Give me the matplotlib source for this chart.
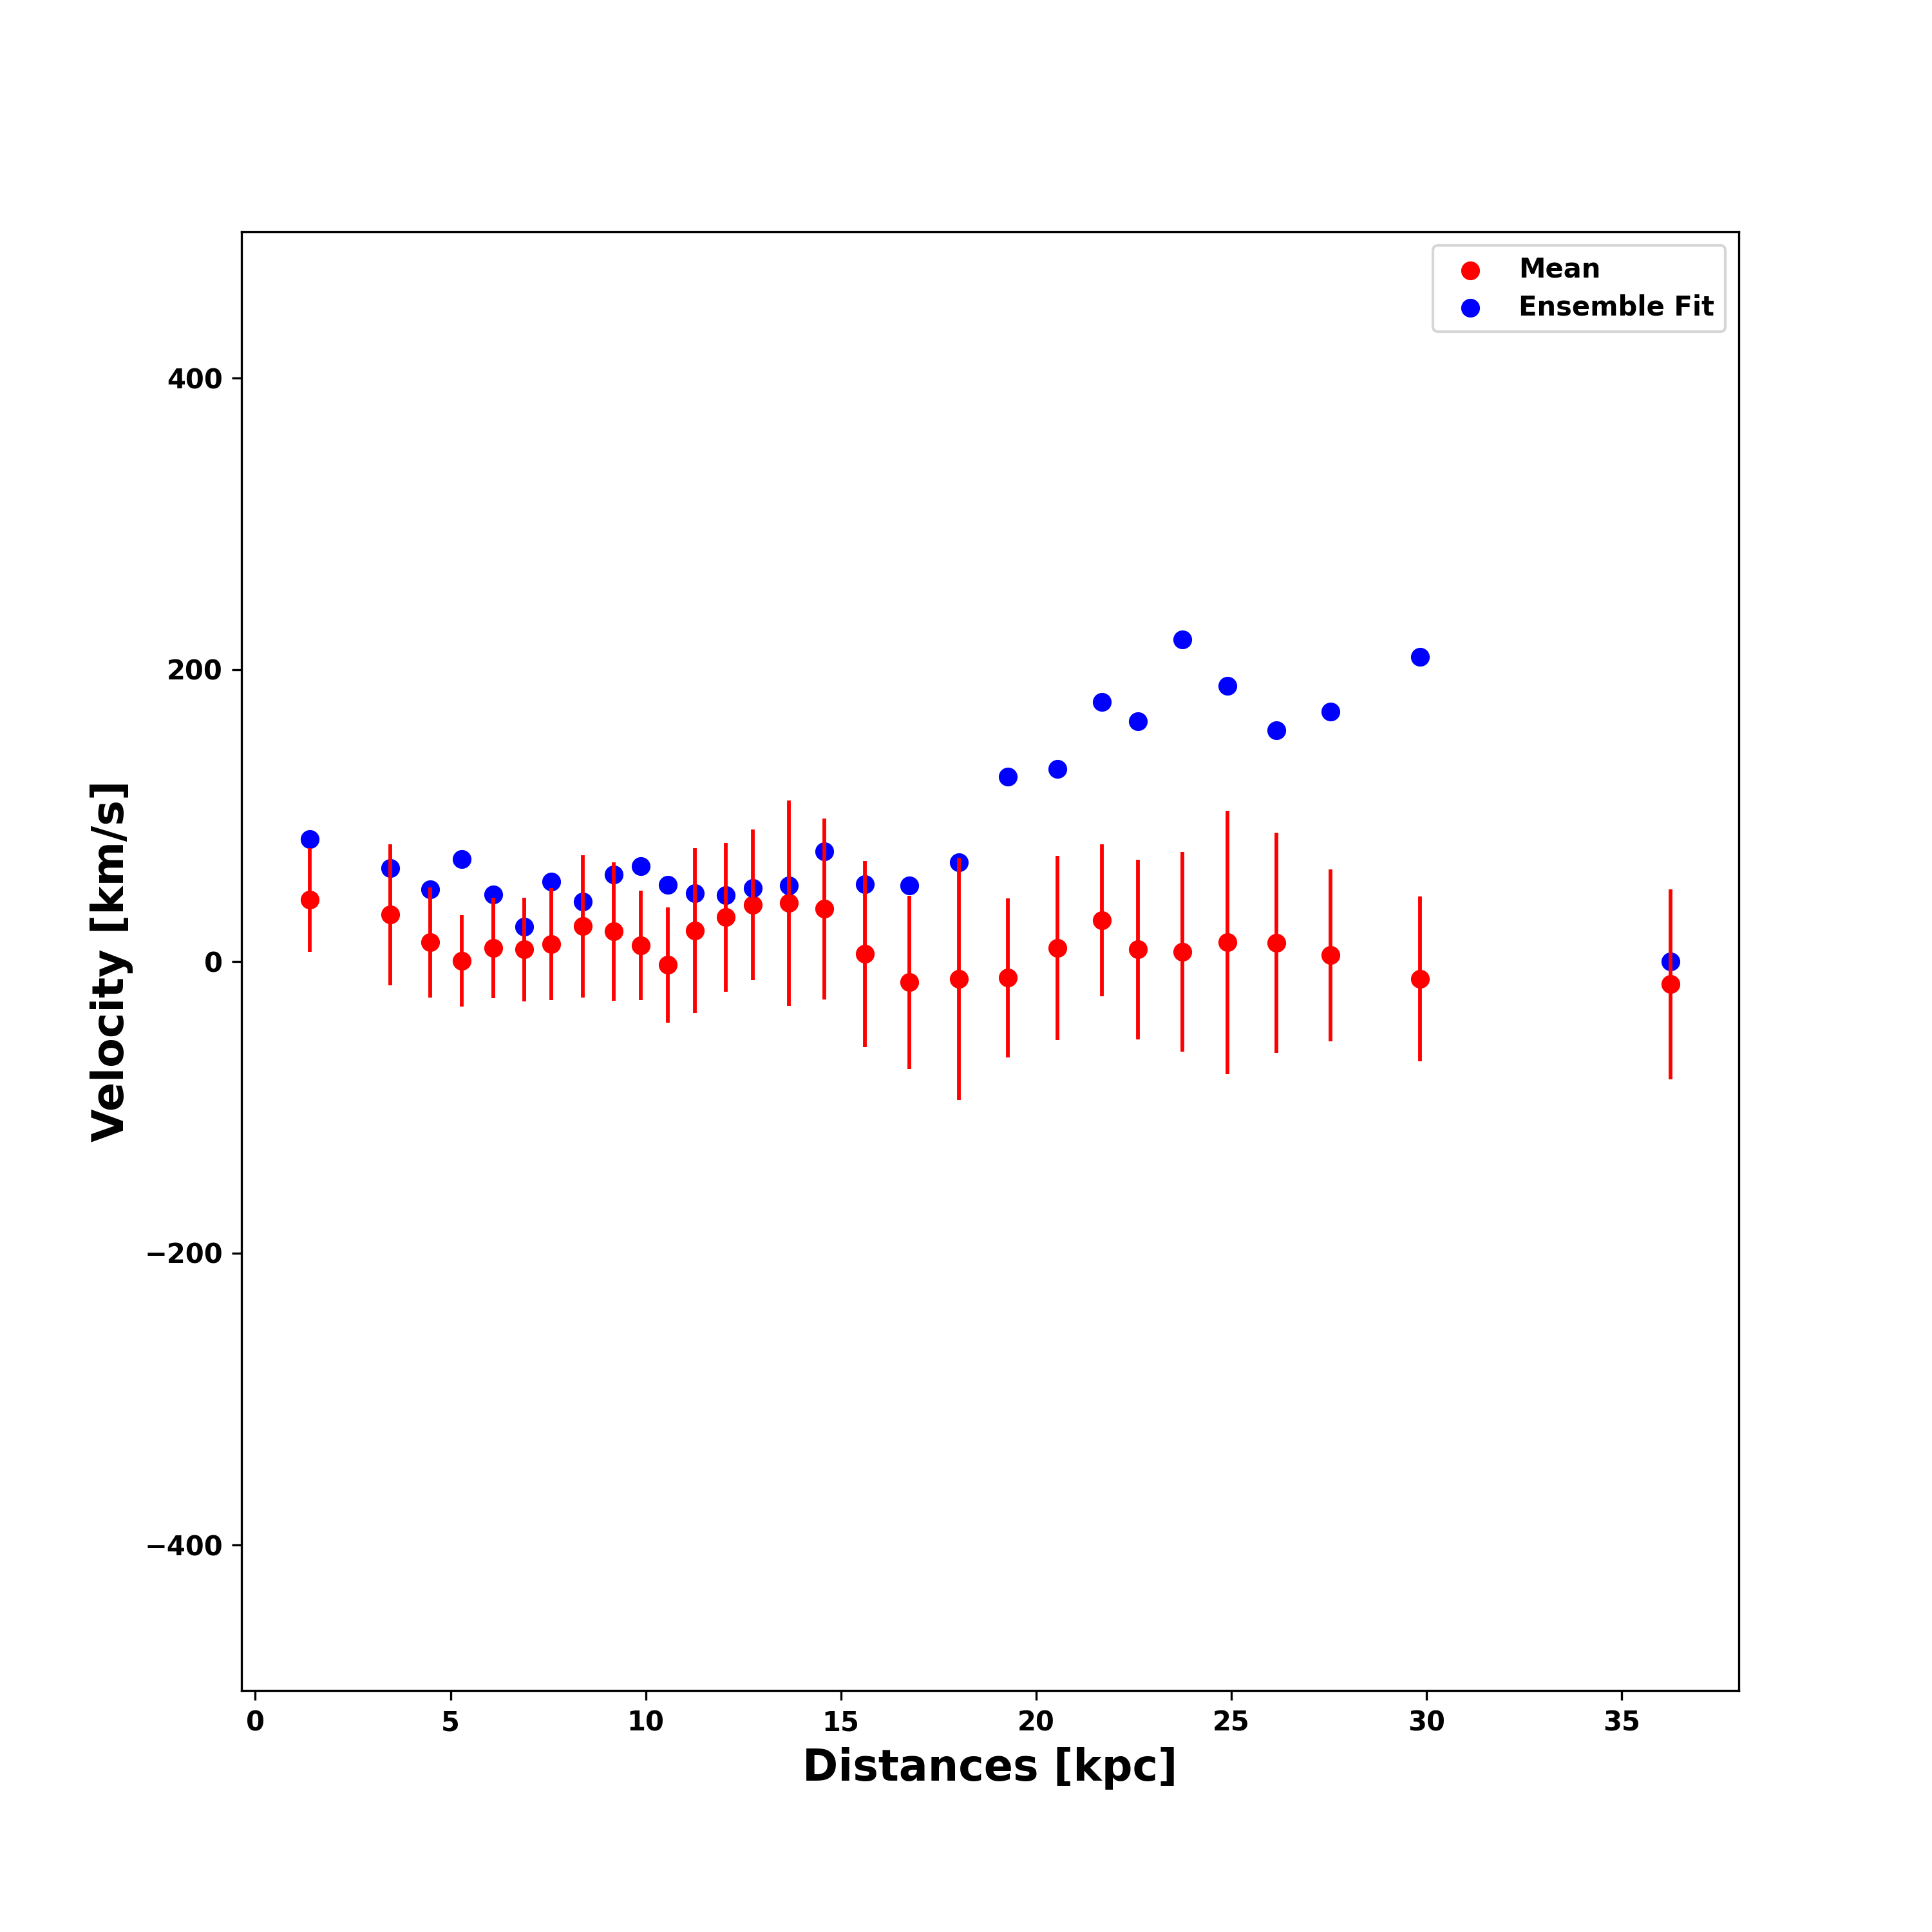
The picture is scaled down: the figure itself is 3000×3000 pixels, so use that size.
import matplotlib
matplotlib.use("Agg")
import matplotlib.pyplot as plt

distances = [1.39, 3.45, 4.48, 5.29, 6.10, 6.89, 7.59, 8.39, 9.19, 9.88,
             10.57, 11.26, 12.05, 12.75, 13.67, 14.58, 15.62, 16.76, 18.02, 19.28,
             20.55, 21.69, 22.61, 23.75, 24.90, 26.16, 27.55, 29.84, 36.26]

mean_vel = [42.0, 31.9, 12.9, 0.1, 8.9, 8.0, 11.6, 23.9, 20.4, 10.7,
            -2.6, 20.8, 30.1, 38.5, 39.8, 35.8, 4.9, -14.5, -12.3, -11.3,
            9.0, 27.9, 8.0, 6.3, 12.9, 12.5, 4.1, -12.2, -15.8]

mean_err = [35.7, 48.4, 37.8, 31.3, 34.5, 35.7, 38.4, 48.8, 47.5, 37.5,
            39.6, 56.5, 51.0, 51.7, 70.4, 62.2, 63.8, 59.3, 83.0, 54.5,
            63.2, 52.1, 61.5, 68.5, 90.2, 75.4, 58.9, 56.4, 65.0]

ensemble_vel = [83.5, 63.7, 49.1, 69.8, 45.6, 23.5, 54.4, 40.7, 59.2, 65.0,
                52.2, 46.4, 45.1, 50.0, 51.7, 75.1, 52.6, 51.7, 67.6, 126.3,
                131.6, 177.7, 164.3, 220.7, 188.6, 158.2, 171.3, 208.5, -0.4]

fig = plt.figure(figsize=(10, 10), dpi=300)
ax = fig.add_subplot(111)
fig.subplots_adjust(left=0.125, right=0.9, bottom=0.125, top=0.88)

ax.scatter(distances, mean_vel, color='red', label='Mean')
ax.scatter(distances, ensemble_vel, color='blue', label='Ensemble Fit')
ax.errorbar(distances, mean_vel, yerr=mean_err, fmt='none', ecolor='red', elinewidth=1.4)

ax.set_ylim(-500, 500)
ax.set_xlabel('Distances [kpc]', fontsize=16, fontweight='bold')
ax.set_ylabel('Velocity [km/s]', fontsize=16, fontweight='bold')
for lbl in ax.get_xticklabels() + ax.get_yticklabels():
    lbl.set_fontweight('bold')
ax.legend(loc='upper right', prop={'weight': 'bold'}, labelspacing=0.4)

fig.savefig('out.png', dpi=300)
